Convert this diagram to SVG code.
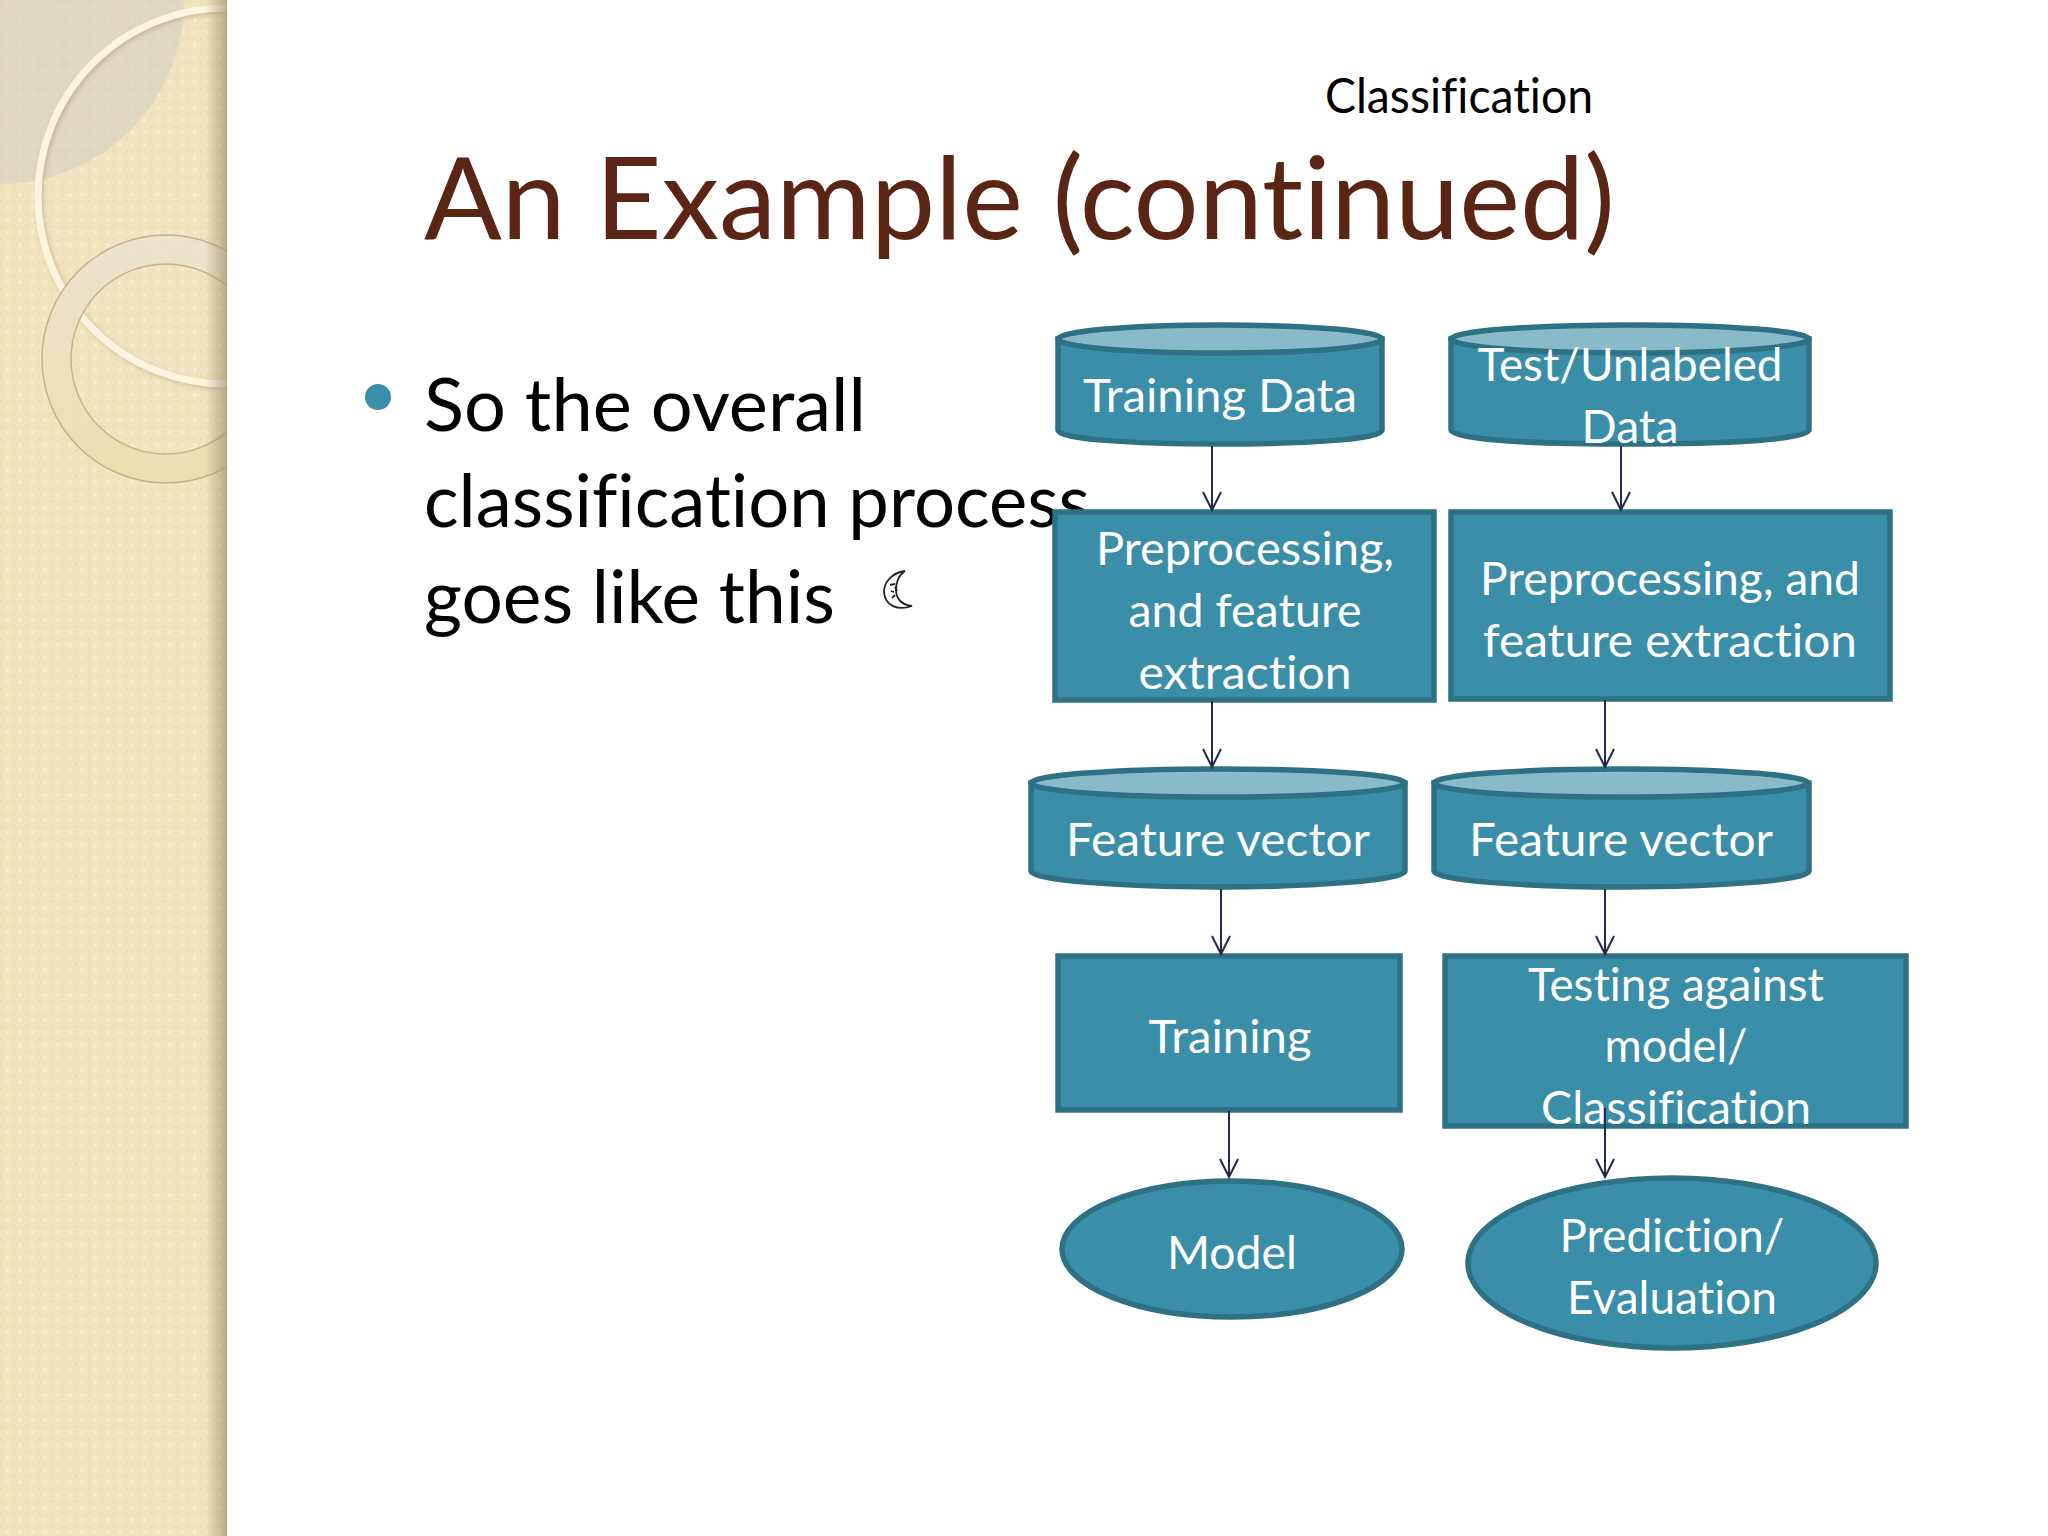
<svg xmlns="http://www.w3.org/2000/svg" width="2048" height="1536" viewBox="0 0 2048 1536">
<style>
text{font-family:"Lato","Liberation Sans",sans-serif;font-variant-ligatures:none}
.n{fill:#3b8ea8;stroke:#2e7185;stroke-width:5.5}
.top{fill:#88bac9;stroke:#2e7185;stroke-width:5.5}
.t{fill:#fff;font-size:47px;text-anchor:middle}
.b{fill:#000;font-size:74px}
.c{fill:none;stroke:#23284f;stroke-width:2;marker-end:url(#ah)}
</style>
<defs>
<pattern id="pt" width="12.5" height="12.5" patternUnits="userSpaceOnUse">
<rect width="12.5" height="12.5" fill="#f3e6c2"/>
<rect x="0" y="0" width="12.5" height="2.5" fill="#f0e2ba"/>
<rect x="0" y="0" width="2.5" height="12.5" fill="#f0e2ba"/>
<rect x="0" y="0" width="2.5" height="2.5" fill="#ebdcb2"/>
<rect x="6" y="6" width="3" height="3" fill="#f6edd3"/>
<path d="M4 4h7v7h-7z" fill="none" stroke="#eee0b8" stroke-width="1"/>
</pattern>
<linearGradient id="sh" x1="0" x2="1"><stop offset="0" stop-color="#a09070" stop-opacity="0"/><stop offset="1" stop-color="#a09070" stop-opacity=".7"/></linearGradient>
<linearGradient id="rg" x1="0" x2="0" y1="0" y2="1"><stop offset="0" stop-color="#eae4ce"/><stop offset="1" stop-color="#eddcae"/></linearGradient>
<filter id="soft" x="-10%" y="-10%" width="120%" height="120%"><feDropShadow dx="2" dy="2" stdDeviation="2" flood-color="#a89870" flood-opacity=".5"/></filter>
<clipPath id="side"><rect width="227" height="1536"/></clipPath>
<marker id="ah" markerUnits="userSpaceOnUse" markerWidth="24" markerHeight="20" refX="19" refY="10" orient="auto"><path d="M1 1 L19 10 L1 19" fill="none" stroke="#23284f" stroke-width="2"/></marker>
</defs>
<rect width="2048" height="1536" fill="#fff"/>
<g id="sidebar" clip-path="url(#side)">
<rect width="227" height="1536" fill="url(#pt)"/>
<circle cx="0" cy="0" r="184" fill="#d4d0c2" fill-opacity=".6" stroke="#e4dcbc" stroke-width="1"/>
<circle cx="226" cy="196" r="188" fill="none" stroke="#fbf5e0" stroke-width="7" filter="url(#soft)"/>
<path fill-rule="evenodd" d="M42 359a124 124 0 1 0 248 0a124 124 0 1 0-248 0ZM71 359a95 95 0 1 0 190 0a95 95 0 1 0-190 0Z" fill="url(#rg)" fill-opacity=".9" stroke="#c4b48c" stroke-width="1.5"/>
<rect x="205" width="22" height="1536" fill="url(#sh)"/>
</g>
<text x="1325" y="113" font-size="48" fill="#000" textLength="268" lengthAdjust="spacingAndGlyphs">Classification</text>
<text x="424" y="239" font-size="114" fill="#5b2516" textLength="1191" lengthAdjust="spacingAndGlyphs">An Example (continued)</text>
<circle id="bullet" cx="378" cy="397" r="13" fill="#3b8ea8"/>
<text class="b" x="424" y="431" textLength="442" lengthAdjust="spacingAndGlyphs">So the overall</text>
<text class="b" x="424" y="527" textLength="666" lengthAdjust="spacingAndGlyphs">classification process</text>
<text class="b" x="424" y="623" textLength="411" lengthAdjust="spacingAndGlyphs">goes like this</text>
<g id="moon" fill="none" stroke="#222" stroke-width="1.8"><path d="M905 571C890 573 884 584 884 592C885 606 898 611 912 606C902 605 896 599 896 590C896 582 899 575 905 571Z"/><path d="M890 585l5-1M891 591l3 1M892 598l3-3M895 587l2 4"/></g>
<g id="n1"><path class="n" d="M1058 339V430C1058 439 1130 444 1220 444S1382 439 1382 430V339Z"/><ellipse class="top" cx="1220" cy="339" rx="162" ry="14"/><text class="t" x="1220" y="412" textLength="274" lengthAdjust="spacingAndGlyphs">Training Data</text></g>
<g id="n2"><path class="n" d="M1451 339V430C1451 439 1530 444 1630 444S1809 439 1809 430V339Z"/><ellipse class="top" cx="1630" cy="339" rx="179" ry="14"/><text class="t" x="1630" y="381" textLength="305" lengthAdjust="spacingAndGlyphs">Test/Unlabeled</text><text class="t" x="1630" y="443" textLength="97" lengthAdjust="spacingAndGlyphs">Data</text></g>
<g id="n3"><rect class="n" x="1055" y="512" width="379" height="188"/><text class="t" x="1245" y="565" textLength="298" lengthAdjust="spacingAndGlyphs">Preprocessing,</text><text class="t" x="1245" y="627" textLength="233" lengthAdjust="spacingAndGlyphs">and feature</text><text class="t" x="1245" y="689" textLength="213" lengthAdjust="spacingAndGlyphs">extraction</text></g>
<g id="n4"><rect class="n" x="1451" y="512" width="439" height="187"/><text class="t" x="1670" y="595" textLength="380" lengthAdjust="spacingAndGlyphs">Preprocessing, and</text><text class="t" x="1670" y="657" textLength="374" lengthAdjust="spacingAndGlyphs">feature extraction</text></g>
<g id="n5"><path class="n" d="M1031 783V871C1031 880 1120 887 1218 887S1405 880 1405 871V783Z"/><ellipse class="top" cx="1218" cy="783" rx="187" ry="14"/><text class="t" x="1218" y="856" textLength="304" lengthAdjust="spacingAndGlyphs">Feature vector</text></g>
<g id="n6"><path class="n" d="M1434 783V871C1434 880 1520 887 1621 887S1809 880 1809 871V783Z"/><ellipse class="top" cx="1621" cy="783" rx="187" ry="14"/><text class="t" x="1621" y="856" textLength="304" lengthAdjust="spacingAndGlyphs">Feature vector</text></g>
<g id="n7"><rect class="n" x="1058" y="956" width="342" height="154"/><text class="t" x="1230" y="1053" textLength="163" lengthAdjust="spacingAndGlyphs">Training</text></g>
<g id="n8"><rect class="n" x="1445" y="956" width="461" height="170"/><text class="t" x="1676" y="1001" textLength="296" lengthAdjust="spacingAndGlyphs">Testing against</text><text class="t" x="1676" y="1062" textLength="143" lengthAdjust="spacingAndGlyphs">model/</text><text class="t" x="1676" y="1124" textLength="270" lengthAdjust="spacingAndGlyphs">Classification</text></g>
<g id="n9"><ellipse class="n" cx="1232" cy="1249" rx="170" ry="68"/><text class="t" x="1232" y="1269" textLength="130" lengthAdjust="spacingAndGlyphs">Model</text></g>
<g id="n10"><ellipse class="n" cx="1672" cy="1263" rx="204" ry="85"/><text class="t" x="1672" y="1252" textLength="225" lengthAdjust="spacingAndGlyphs">Prediction/</text><text class="t" x="1672" y="1314" textLength="210" lengthAdjust="spacingAndGlyphs">Evaluation</text></g>
<g id="connectors">
<path class="c" d="M1212 446V510"/><path class="c" d="M1621 446V510"/><path class="c" d="M1212 701V767"/><path class="c" d="M1605 700V767"/><path class="c" d="M1221 889V954"/><path class="c" d="M1605 889V954"/><path class="c" d="M1229 1111V1177"/><path class="c" d="M1605 1108V1177"/>
</g>
</svg>
